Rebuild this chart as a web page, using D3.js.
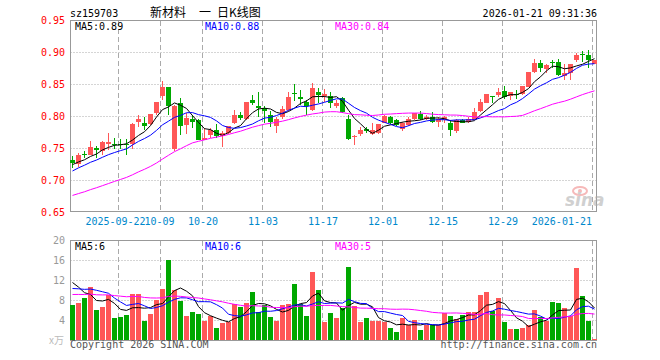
<!DOCTYPE html>
<html>
<head>
<meta charset="utf-8">
<title>新材料 日K线图</title>
<script src="https://cdn.jsdelivr.net/npm/d3@7/dist/d3.min.js"></script>
<style>
  body { margin: 0; background: #fff; }
  svg { display: block; }
  text { font-family: "DejaVu Sans Mono", monospace; font-size: 10px; }
</style>
</head>
<body>
<svg id="chart" width="660" height="360"></svg>
<script>
// ---- data ----
var code = "sz159703";
var stamp = "2026-01-21 09:31:36";

var tickIdx = [8, 15, 22, 32, 42, 52, 62, 72, 87];
var tickLabels = ["2025-09-22", "10-09", "10-20", "11-03", "11-17", "12-01", "12-15", "12-29", "2026-01-21"];

var open = [0.732,0.725,0.740,0.739,0.750,0.745,0.756,0.756,0.756,0.756,
            0.757,0.790,0.789,0.788,0.804,0.831,0.846,0.748,0.821,0.786,
            0.796,0.793,0.763,0.770,0.778,0.769,0.773,0.789,0.802,0.795,
            0.825,0.816,0.812,0.802,0.784,0.798,0.809,0.836,0.830,0.822,
            0.809,0.838,0.832,0.831,0.815,0.828,0.795,0.767,0.772,0.779,
            0.772,0.773,0.789,0.798,0.793,0.779,0.786,0.795,0.803,0.796,
            0.799,0.791,0.793,0.789,0.776,0.794,0.791,0.794,0.808,0.821,
            0.831,0.833,0.839,0.831,0.834,0.834,0.846,0.868,0.883,0.873,
            0.884,0.885,0.862,0.867,0.888,0.897,0.895,0.881];
var high = [0.737,0.742,0.745,0.761,0.753,0.761,0.773,0.766,0.764,0.764,
            0.789,0.802,0.798,0.803,0.822,0.854,0.846,0.817,0.828,0.804,
            0.802,0.796,0.781,0.782,0.788,0.776,0.784,0.810,0.807,0.822,
            0.833,0.837,0.815,0.808,0.798,0.815,0.837,0.850,0.841,0.825,
            0.852,0.844,0.842,0.838,0.825,0.829,0.802,0.771,0.783,0.783,
            0.789,0.788,0.802,0.800,0.795,0.791,0.798,0.805,0.808,0.802,
            0.807,0.798,0.800,0.794,0.795,0.796,0.799,0.812,0.826,0.835,
            0.831,0.843,0.847,0.838,0.840,0.847,0.869,0.889,0.888,0.882,
            0.887,0.889,0.881,0.882,0.898,0.901,0.903,0.888];
var low = [0.718,0.721,0.734,0.739,0.734,0.739,0.747,0.748,0.748,0.739,
           0.748,0.783,0.778,0.786,0.802,0.825,0.802,0.746,0.770,0.772,
           0.782,0.762,0.762,0.765,0.765,0.752,0.772,0.788,0.794,0.794,
           0.817,0.799,0.789,0.783,0.774,0.796,0.808,0.823,0.817,0.802,
           0.808,0.820,0.822,0.812,0.812,0.804,0.762,0.755,0.769,0.773,
           0.770,0.772,0.789,0.788,0.784,0.777,0.785,0.794,0.793,0.794,
           0.789,0.783,0.789,0.769,0.774,0.789,0.789,0.793,0.807,0.820,
           0.821,0.829,0.826,0.825,0.826,0.833,0.845,0.867,0.869,0.867,
           0.875,0.862,0.857,0.856,0.885,0.885,0.875,0.881];
var close = [0.727,0.739,0.739,0.751,0.747,0.759,0.759,0.755,0.755,0.755,
             0.788,0.795,0.784,0.803,0.822,0.846,0.816,0.815,0.785,0.797,
             0.790,0.763,0.766,0.778,0.768,0.774,0.784,0.802,0.797,0.822,
             0.821,0.813,0.808,0.791,0.795,0.811,0.830,0.835,0.827,0.815,
             0.843,0.833,0.834,0.820,0.821,0.807,0.764,0.769,0.778,0.776,
             0.778,0.788,0.800,0.789,0.786,0.789,0.795,0.804,0.795,0.799,
             0.791,0.796,0.798,0.778,0.794,0.789,0.796,0.807,0.822,0.834,
             0.829,0.838,0.829,0.837,0.833,0.847,0.868,0.883,0.875,0.880,
             0.883,0.864,0.867,0.882,0.895,0.896,0.887,0.888];
var volume = [7.1,7.4,8.4,10.6,6.0,6.6,9.0,4.4,4.6,5.0,
              9.2,9.2,3.8,5.2,8.0,10.2,16.0,10.0,7.8,4.8,
              5.6,5.2,3.9,4.8,2.4,3.4,3.6,7.3,6.6,7.4,
              9.6,5.6,7.0,4.6,3.8,7.0,7.2,11.2,7.2,4.8,
              13.6,10.0,3.6,5.4,4.4,6.4,14.6,6.8,3.6,4.4,
              3.8,3.8,3.6,2.4,1.6,4.4,3.0,4.0,2.0,3.0,
              3.0,3.0,5.4,4.8,4.2,5.0,5.6,5.6,9.0,9.6,
              5.8,8.4,3.6,2.2,2.2,2.4,3.0,6.0,4.6,3.8,
              7.6,7.4,6.4,4.8,14.4,8.8,3.8,0.2];

// sessions before the window, estimated from where the moving averages start
var priorClose = [0.652,0.655,0.650,0.658,0.662,0.660,0.655,0.663,0.660,0.665,
                  0.658,0.662,0.668,0.664,0.660,0.640,0.645,0.650,0.652,0.657,
                  0.690,0.698,0.705,0.712,0.716,0.718,0.722,0.725,0.728];
var priorVolume = [7,9,8,10,7.5,8.5,9,8,8.5,7.5,
                   9,10,8,8.5,9,7.5,8,9.5,8.5,9,
                   8,9.5,10,8.5,9.5,12,14,12.4,12];

var priceTicks = [0.65, 0.70, 0.75, 0.80, 0.85, 0.90, 0.95];
var volTicks = [4, 8, 12, 16, 20];

// ---- colours ----
var RED = "#ff5757", GREEN = "#00a800", GRID = "#aaaaaa";
var maColors = {5: "#000000", 10: "#0000ff", 30: "#ff00ff"};

var svg = d3.select("#chart");
var n = close.length;

function movingAvg(prior, vals, len) {
  var all = prior.concat(vals), out = [];
  for (var i = 0; i < vals.length; i++) {
    var end = i + prior.length;
    out.push(d3.mean(all.slice(end - len + 1, end + 1)));
  }
  return out;
}

// scales
var xl = d3.scaleLinear().domain([0, n - 1]).range([72, 594]);
var yp = d3.scaleLinear().domain([0.65, 0.95]).range([212, 20]);
var yv = d3.scaleLinear().domain([0, 20]).range([340, 240]);

var left = 70.5, right = 596.5;

// ---- header ----
svg.append("text").attr("x", 70).attr("y", 17).text(code);
svg.append("text").attr("x", 150).attr("y", 17)
  .style("font-family", "'Noto Sans CJK SC', sans-serif").style("font-size", "12px").text("新材料");
svg.append("text").attr("x", 199).attr("y", 17)
  .style("font-family", "'Noto Sans CJK SC', sans-serif").style("font-size", "12px").text("一");
svg.append("text").attr("x", 217).attr("y", 17)
  .style("font-family", "'Noto Sans CJK SC', sans-serif").style("font-size", "12px").text("日K线图");
svg.append("text").attr("x", 597).attr("y", 17).attr("text-anchor", "end").text(stamp);

// ---- grids ----
function hGrid(scale, ticks, skip) {
  svg.append("g").selectAll("line")
    .data(ticks.filter(function(t) { return skip.indexOf(t) < 0; }))
    .enter().append("line")
    .attr("x1", left).attr("x2", right)
    .attr("y1", function(d) { return Math.round(scale(d)) + 0.5; })
    .attr("y2", function(d) { return Math.round(scale(d)) + 0.5; })
    .attr("stroke", GRID).attr("stroke-dasharray", "1,2");
}
hGrid(yp, priceTicks, [0.65, 0.95]);
hGrid(yv, volTicks, [20]);

function vGrid(y1, y2) {
  svg.append("g").selectAll("line")
    .data(tickIdx).enter().append("line")
    .attr("x1", function(d) { return xl(d) - 1.5; })
    .attr("x2", function(d) { return xl(d) - 1.5; })
    .attr("y1", y1).attr("y2", y2)
    .attr("stroke", GRID).attr("stroke-dasharray", "5,3");
}
vGrid(21, 212);
vGrid(241, 340);

// ---- frames ----
svg.append("rect").attr("x", left).attr("y", 20.5).attr("width", right - left).attr("height", 191)
  .attr("fill", "none").attr("stroke", "#999");
svg.append("rect").attr("x", left).attr("y", 240.5).attr("width", right - left).attr("height", 100)
  .attr("fill", "none").attr("stroke", "#999");

// ---- axes ----
var yAxisP = svg.append("g").attr("transform", "translate(68,0)")
  .call(d3.axisLeft(yp).tickValues(priceTicks).tickFormat(d3.format(".2f")).tickSize(0).tickPadding(3));
yAxisP.select(".domain").remove();
yAxisP.selectAll("text").attr("fill", "#ff0000").style("font-family", "'DejaVu Sans Mono', monospace").style("font-size", "10px");

var yAxisV = svg.append("g").attr("transform", "translate(68,0)")
  .call(d3.axisLeft(yv).tickValues(volTicks).tickFormat(d3.format("d")).tickSize(0).tickPadding(3));
yAxisV.select(".domain").remove();
yAxisV.selectAll("text").attr("fill", "#999").style("font-family", "'DejaVu Sans Mono', monospace").style("font-size", "10px");

var xAxis = svg.append("g").attr("transform", "translate(-1.5,212)")
  .call(d3.axisBottom(xl).tickValues(tickIdx)
    .tickFormat(function(d, k) { return tickLabels[k]; }).tickSize(0).tickPadding(6));
xAxis.select(".domain").remove();
xAxis.selectAll("text").attr("fill", "#0088cc").style("font-family", "'DejaVu Sans Mono', monospace").style("font-size", "10px");
// the first two labels sit tight together, the last one ends inside the frame
xAxis.selectAll("text").filter(function(d) { return d === tickIdx[0]; }).attr("dx", "-3.5");
xAxis.selectAll("text").filter(function(d) { return d === tickIdx[1]; }).attr("dx", "-1.5");
xAxis.selectAll("text").filter(function(d) { return d === n - 1; }).attr("text-anchor", "end").attr("dx", "-1");

// ---- candles ----
var idx = d3.range(n);
function isUp(i) { return close[i] >= open[i]; }

var candles = svg.append("g");
candles.selectAll("line").data(idx).enter().append("line")
  .attr("x1", function(i) { return xl(i) + 0.5; })
  .attr("x2", function(i) { return xl(i) + 0.5; })
  .attr("y1", function(i) { return Math.round(yp(high[i])); })
  .attr("y2", function(i) { return Math.round(yp(low[i])); })
  .attr("stroke", function(i) { return isUp(i) ? RED : GREEN; });
candles.selectAll("rect").data(idx).enter().append("rect")
  .attr("x", function(i) { return xl(i) - 2; })
  .attr("width", 5)
  .attr("y", function(i) { return Math.round(yp(Math.max(open[i], close[i]))); })
  .attr("height", function(i) {
    var t = Math.round(yp(Math.max(open[i], close[i])));
    var b = Math.round(yp(Math.min(open[i], close[i])));
    return Math.max(1, b - t);
  })
  .attr("fill", function(i) { return isUp(i) ? RED : GREEN; });

// ---- volume bars ----
svg.append("g").selectAll("rect").data(idx).enter().append("rect")
  .attr("x", function(i) { return xl(i) - 2; })
  .attr("width", 5)
  .attr("y", function(i) { return Math.round(yv(volume[i])); })
  .attr("height", function(i) { return Math.max(1, 340 - Math.round(yv(volume[i]))); })
  .attr("fill", function(i) { return isUp(i) ? RED : GREEN; });

// ---- moving averages ----
var fmtP = d3.format(".2f"), fmtV = d3.format(".0f");
var labelX = {5: 75, 10: 205, 30: 335};
[5, 10, 30].forEach(function(len) {
  var maP = movingAvg(priorClose, close, len);
  var maV = movingAvg(priorVolume, volume, len);
  svg.append("path").datum(maP)
    .attr("d", d3.line().x(function(d, i) { return xl(i) + 0.5; }).y(function(d) { return yp(d); }))
    .attr("fill", "none").attr("stroke", maColors[len]).attr("stroke-width", 1);
  svg.append("path").datum(maV)
    .attr("d", d3.line().x(function(d, i) { return xl(i) + 0.5; }).y(function(d) { return yv(d); }))
    .attr("fill", "none").attr("stroke", maColors[len]).attr("stroke-width", 1);
  svg.append("text").attr("x", labelX[len]).attr("y", 30).attr("fill", maColors[len])
    .text("MA" + len + ":" + fmtP(maP[n - 1]));
  svg.append("text").attr("x", labelX[len]).attr("y", 250).attr("fill", maColors[len])
    .text("MA" + len + ":" + fmtV(maV[n - 1]));
});

// ---- sina watermark ----
var wm = svg.append("g").attr("opacity", 0.55);
wm.append("ellipse").attr("cx", 580).attr("cy", 191).attr("rx", 7).attr("ry", 4)
  .attr("fill", "none").attr("stroke", "#f08080").attr("stroke-width", 2);
wm.append("circle").attr("cx", 580).attr("cy", 191).attr("r", 2).attr("fill", "#f08080");
wm.append("text").attr("x", 565).attr("y", 206)
  .style("font-family", "'DejaVu Sans', sans-serif").style("font-size", "17px")
  .style("font-style", "italic").style("font-weight", "bold").attr("fill", "#aaa").text("sina");

// ---- footer ----
svg.append("text").attr("x", 64).attr("y", 344).attr("text-anchor", "end").attr("fill", "#bbb")
  .style("font-family", "'Noto Sans CJK SC', sans-serif").style("font-size", "10px").text("x万");
svg.append("text").attr("x", 70).attr("y", 348).attr("fill", "#555").text("Copyright 2026 SINA.COM");
svg.append("text").attr("x", 597).attr("y", 348).attr("text-anchor", "end").attr("fill", "#555")
  .text("http://finance.sina.com.cn");
</script>
</body>
</html>
